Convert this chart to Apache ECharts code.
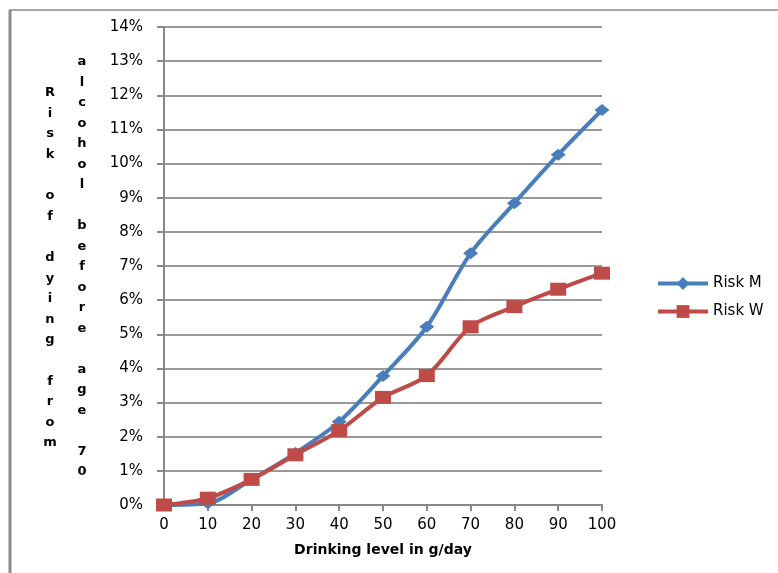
<!DOCTYPE html>
<html>
<head>
<meta charset="utf-8">
<script src="https://cdn.jsdelivr.net/npm/echarts@6/dist/echarts.min.js"></script>
<style>html,body{margin:0;padding:0;background:#fff}#c{width:778px;height:573px}</style>
</head>
<body>
<div id="c"></div>
<script>
const drinking = [0, 10, 20, 30, 40, 50, 60, 70, 80, 90, 100];
const riskM = [0, 0.05, 0.75, 1.52, 2.44, 3.78, 5.22, 7.37, 8.84, 10.26, 11.57];
const riskW = [0, 0.2, 0.75, 1.47, 2.18, 3.15, 3.79, 5.22, 5.81, 6.32, 6.79];
const seriesNames = ['Risk M', 'Risk W'];
const xTitle = 'Drinking level in g/day';
const yTitle1 = 'Risk of dying from';
const yTitle2 = 'alcohol before age 70';

const font = 'DejaVu Sans';
const chart = echarts.init(document.getElementById('c'), null, {renderer: 'canvas'});
const toPairs = arr => arr.map((v, i) => [drinking[i], v]);
const vert = s => s.split('').join('\n');

chart.setOption({
  animation: false,
  backgroundColor: '#fff',
  grid: {left: 164, right: 176, top: 27, bottom: 68, containLabel: false},
  xAxis: {
    type: 'value', min: 0, max: 100, interval: 10,
    name: xTitle, nameLocation: 'middle', nameGap: 38,
    nameTextStyle: {fontFamily: font, fontWeight: 'bold', fontSize: 14, color: '#000'},
    axisLine: {lineStyle: {color: '#888', width: 2}},
    axisTick: {show: true, inside: false, length: 6, lineStyle: {color: '#888', width: 2}},
    axisLabel: {fontFamily: font, fontSize: 15, color: '#000', margin: 13},
    splitLine: {show: false}
  },
  yAxis: {
    type: 'value', min: 0, max: 14, interval: 1,
    axisLine: {show: true, lineStyle: {color: '#888', width: 2}},
    axisTick: {show: true, inside: false, length: 7, lineStyle: {color: '#888', width: 2}},
    axisLabel: {fontFamily: font, fontSize: 15, color: '#000', margin: 21, formatter: '{value}%'},
    splitLine: {show: true, lineStyle: {color: '#999', width: 2}}
  },
  legend: {
    orient: 'vertical', left: 651, top: 271, itemWidth: 50, itemHeight: 16, itemGap: 13,
    lineStyle: {width: 4},
    textStyle: {fontFamily: font, fontSize: 15, color: '#000'},
    data: seriesNames
  },
  series: [
    {
      name: seriesNames[0], type: 'line', data: toPairs(riskM), smooth: 0.3,
      symbol: 'diamond', symbolSize: [15, 12],
      lineStyle: {color: '#4a7ebb', width: 4},
      itemStyle: {color: '#4a7ebb'}
    },
    {
      name: seriesNames[1], type: 'line', data: toPairs(riskW), smooth: 0.3,
      symbol: 'rect', symbolSize: [16, 13],
      lineStyle: {color: '#be4b48', width: 4},
      itemStyle: {color: '#be4b48'}
    }
  ],
  graphic: [
    {type: 'line', shape: {x1: 9, y1: 10, x2: 778, y2: 10}, style: {stroke: '#a6a6a6', lineWidth: 2}},
    {type: 'line', shape: {x1: 10, y1: 10, x2: 10, y2: 573}, style: {stroke: '#8c8c8c', lineWidth: 3}},
    {type: 'text', x: 50, y: 268, style: {text: vert(yTitle1), fill: '#000', font: 'bold 13px "DejaVu Sans"', textAlign: 'center', textVerticalAlign: 'middle', lineHeight: 20.6}},
    {type: 'text', x: 82, y: 267, style: {text: vert(yTitle2), fill: '#000', font: 'bold 13px "DejaVu Sans"', textAlign: 'center', textVerticalAlign: 'middle', lineHeight: 20.5}}
  ]
});
</script>
</body>
</html>
